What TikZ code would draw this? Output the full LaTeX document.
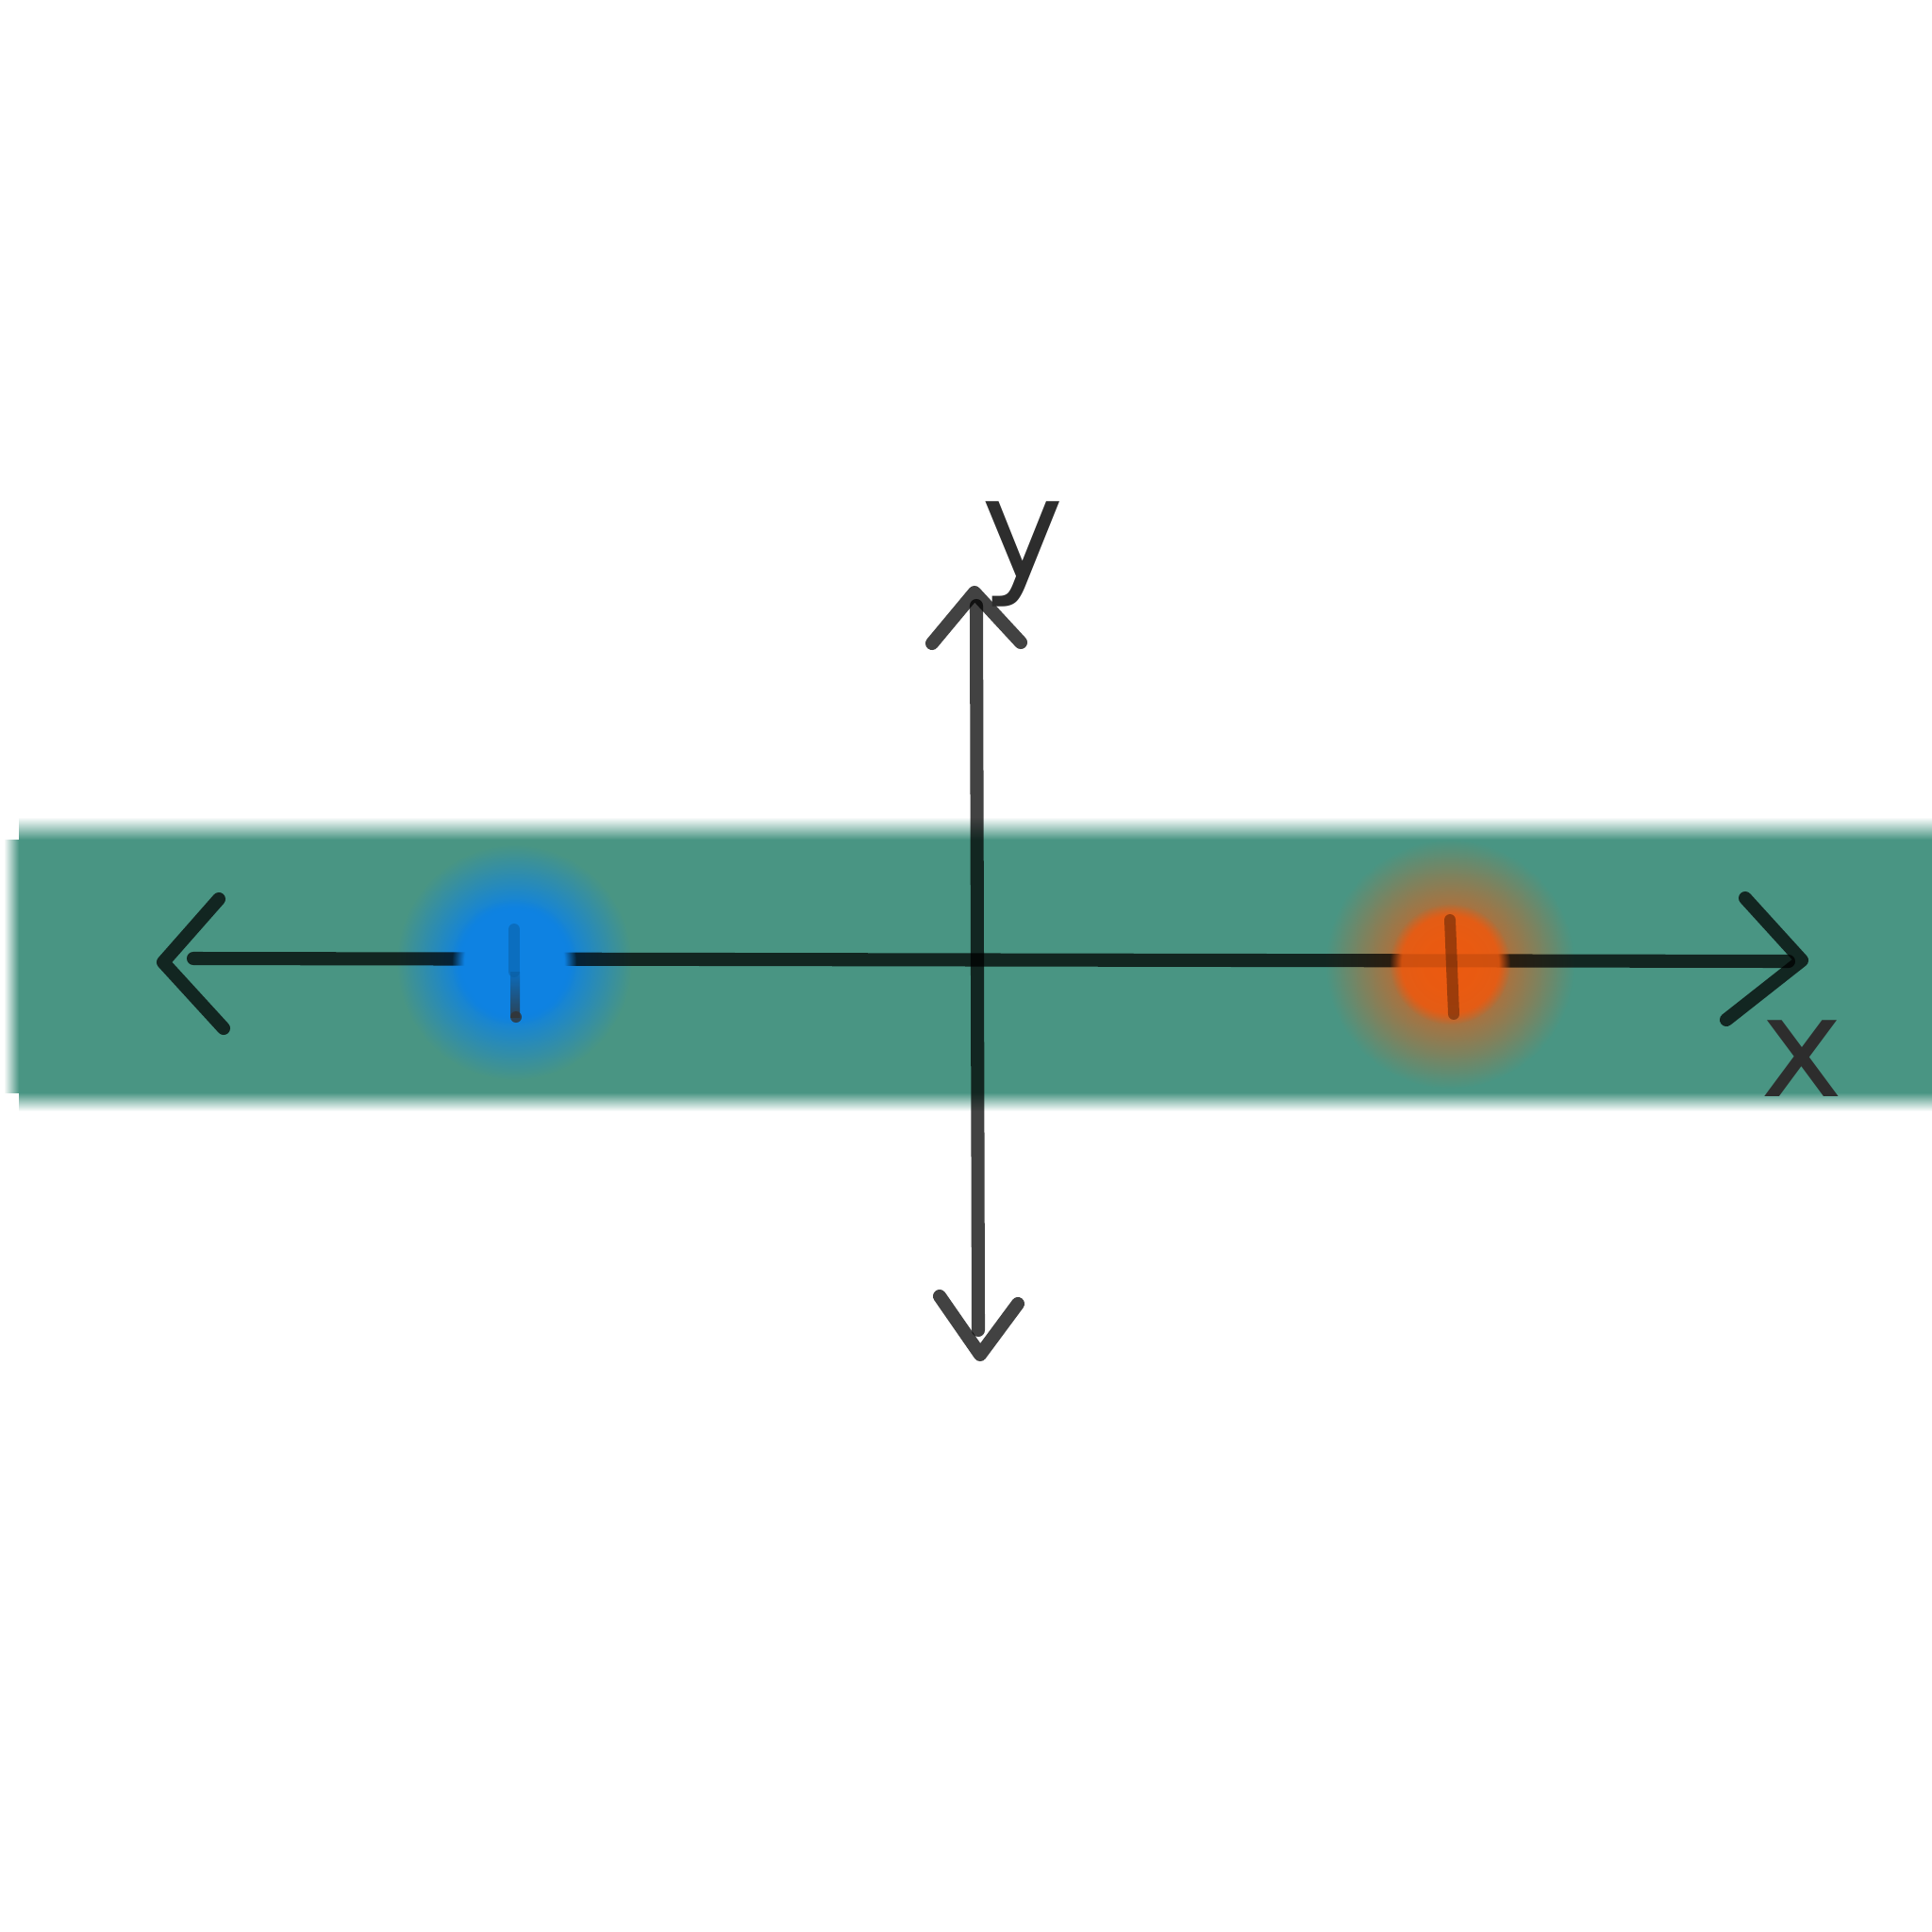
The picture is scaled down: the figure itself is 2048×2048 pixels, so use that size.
\documentclass[tikz,border=0pt]{standalone}
\usepackage{fontspec}
\setmainfont{DejaVu Sans}
\usetikzlibrary{fadings}
\definecolor{band}{RGB}{73,149,131}
\definecolor{dotblue}{RGB}{14,130,226}
\definecolor{dotorange}{RGB}{236,90,16}
\definecolor{pencil}{RGB}{45,45,45}
\pgfdeclareradialshading{blueglow}{\pgfpoint{0bp}{0bp}}{color(0bp)=(dotblue); color(11bp)=(dotblue); color(18bp)=(dotblue!50!band); color(25bp)=(band); color(50bp)=(band)}
\pgfdeclareradialshading{orangeglow}{\pgfpoint{0bp}{0bp}}{color(0bp)=(dotorange); color(6bp)=(dotorange!88!band); color(11bp)=(dotorange!62!band); color(18bp)=(dotorange!32!band); color(25bp)=(band); color(50bp)=(band)}
\tikzset{
  stroke/.style={draw=black, draw opacity=0.74, line width=4pt, line cap=round, line join=round},
  tickstroke/.style={line width=3.4pt, line cap=round},
  lettr/.style={text=pencil, font=\fontsize{42}{42}\selectfont, inner sep=0pt}
}
\begin{document}
\begin{tikzpicture}[x=0.01cm, y=-0.01cm]
\useasboundingbox (0,0) rectangle (2048,2048);
\fill[white] (0,0) rectangle (2048,2048);
% green band with soft edges
\fill[band] (20,890) rectangle (2048,1158);
\shade[top color=white, bottom color=band] (20,866) rectangle (2048,890);
\shade[top color=band, bottom color=white] (20,1158) rectangle (2048,1178);
\shade[left color=white, right color=band] (4,890) rectangle (20,1158);
% glows (under the axis)
\shade[shading=blueglow] (545,1020) circle[radius=125];
\shade[shading=orangeglow] (1537,1022) circle[radius=132];
% coordinates
\coordinate (hl) at (205,1016);
\coordinate (hr) at (1896,1019);
\coordinate (ltip) at (173,1020);
\coordinate (lup) at (232,953);
\coordinate (llo) at (237,1090);
\coordinate (rtip) at (1910,1018);
\coordinate (rup) at (1850,952);
\coordinate (rlo) at (1830,1081);
\coordinate (vt) at (1035,642);
\coordinate (vb) at (1037,1410);
\coordinate (utip) at (1033,628);
\coordinate (ul) at (988,682);
\coordinate (ur) at (1082,681);
\coordinate (dtip) at (1039,1436);
\coordinate (dl) at (996,1374);
\coordinate (dr) at (1079,1382);
% axes
\draw[stroke] (hl) -- (hr);
\draw[stroke] (vt) -- (vb);
\draw[stroke] (lup) -- (ltip) -- (llo);
\draw[stroke] (rup) -- (rtip) -- (rlo);
\draw[stroke] (ul) -- (utip) -- (ur);
\draw[stroke] (dl) -- (dtip) -- (dr);
% dot cores
\fill[dotblue, path fading=circle with fuzzy edge 20 percent] (545,1020) circle[radius=66];
\fill[dotorange, fill opacity=0.85, path fading=circle with fuzzy edge 20 percent] (1537,1022) circle[radius=64];
% ticks
\coordinate (bt1) at (545,985);
\coordinate (bt2) at (547,1078);
\coordinate (ot1) at (1537,975);
\coordinate (ot2) at (1541,1075);
\shade[top color=dotblue!80!black, bottom color=black!80, opacity=0.8] (541,1030) rectangle (551,1078);
\draw[tickstroke, draw=dotblue!70!black, draw opacity=0.5] (bt1) -- (545,1030);
\fill[black!80, opacity=0.8] (bt2) circle[radius=6];
\draw[tickstroke, draw=black!60!dotorange, draw opacity=0.55] (ot1) -- (ot2);
% labels
\node[lettr, anchor=base] (ylab) at (1084,612) {y};
\node[lettr, anchor=base] (xlab) at (1910,1162) {x};
\end{tikzpicture}
\end{document}
